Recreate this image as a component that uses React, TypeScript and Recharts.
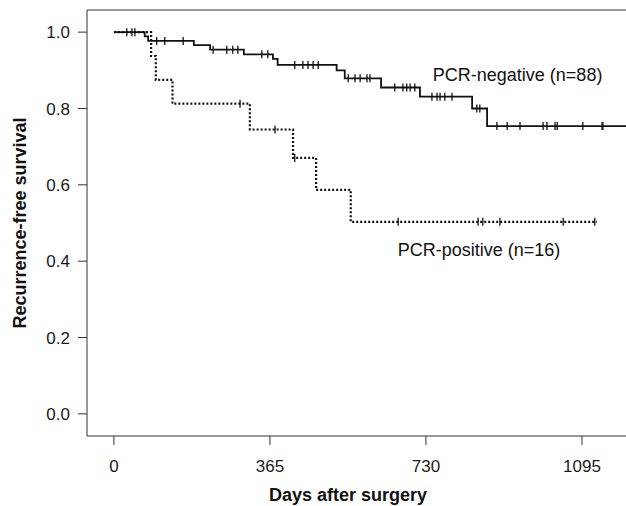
import React from "react";
import {
  ComposedChart,
  Line,
  Scatter,
  XAxis,
  YAxis,
  ReferenceDot,
  ReferenceLine,
} from "recharts";

// PCR-negative (n=88): event days and survival after each step
const negEventDays = [0, 72, 80, 187, 225, 304, 372, 383, 521, 540, 625, 716, 838, 873];
const negSurvival = [1.0, 0.989, 0.977, 0.966, 0.954, 0.942, 0.93, 0.914, 0.9, 0.879, 0.855, 0.831, 0.8, 0.754];
const negCensorDays = [
  30, 42, 49, 100, 119, 162, 232, 264, 278, 290, 346, 360, 423, 442, 454, 466, 478,
  548, 564, 576, 592, 599, 657, 676, 685, 693, 704, 744, 756, 763, 774, 791, 849, 856,
  896, 920, 950, 1004, 1013, 1032, 1037, 1097, 1142, 1144,
];
const negLastDay = 1198;

// PCR-positive (n=16)
const posEventDays = [0, 87, 98, 137, 318, 419, 473, 554];
const posSurvival = [1.0, 0.9375, 0.875, 0.8125, 0.745, 0.6705, 0.5867, 0.503];
const posCensorDays = [295, 377, 423, 665, 852, 863, 903, 1051, 1125];
const posLastDay = 1130;

const xTicks = [0, 365, 730, 1095];
const yTicks = [0, 0.2, 0.4, 0.6, 0.8, 1.0];

const xDomain: [number, number] = [-63, 1198];
const yDomain: [number, number] = [-0.058, 1.058];

const FONT = "'Liberation Sans', Arial, sans-serif";
const INK = "#111";

function stepData(days: number[], surv: number[], last: number) {
  const pts = days.map((d, i) => ({ day: d, surv: surv[i] }));
  pts.push({ day: last, surv: surv[surv.length - 1] });
  return pts;
}

function censorData(days: number[], evDays: number[], surv: number[]) {
  return days.map((d) => {
    let s = surv[0];
    evDays.forEach((e, i) => {
      if (e <= d) s = surv[i];
    });
    return { day: d, surv: s };
  });
}

const negLine = stepData(negEventDays, negSurvival, negLastDay);
const posLine = stepData(posEventDays, posSurvival, posLastDay);
const negCensors = censorData(negCensorDays, negEventDays, negSurvival);
const posCensors = censorData(posCensorDays, posEventDays, posSurvival);

const CensorMark = (props: any) => {
  const { cx, cy } = props;
  if (cx == null || cy == null) return null;
  return <line x1={cx} x2={cx} y1={cy - 4} y2={cy + 4} stroke={INK} strokeWidth={1.3} />;
};

const YTitle = (props: any) => {
  const vb = props.viewBox || {};
  const cy = (vb.y ?? 0) + (vb.height ?? 0) / 2;
  return (
    <text
      x={20}
      y={cy}
      transform={`rotate(-90, 20, ${cy})`}
      textAnchor="middle"
      dominantBaseline="central"
      fontFamily={FONT}
      fontWeight="bold"
      fontSize={18}
      fill={INK}
    >
      Recurrence-free survival
    </text>
  );
};

const XTitle = () => (
  <text
    x={348}
    y={501}
    textAnchor="middle"
    fontFamily={FONT}
    fontWeight="bold"
    fontSize={18}
    fill={INK}
  >
    Days after surgery
  </text>
);

const Note = (text: string) => (props: any) => {
  const vb = props.viewBox || {};
  return (
    <text x={vb.x} y={vb.y} textAnchor="start" fontFamily={FONT} fontSize={18} fill={INK}>
      {text}
    </text>
  );
};

export default function App() {
  const tickStyle = { fill: "#1a1a1a", fontSize: 17, fontFamily: FONT };
  return (
    <div style={{ position: "absolute", left: 0, top: 0, width: 626, height: 506, background: "#fff" }}>
      <ComposedChart width={626} height={506} margin={{ top: 10, right: 0, left: 0, bottom: 0 }}>
        <XAxis
          dataKey="day"
          type="number"
          domain={xDomain}
          ticks={xTicks}
          interval={0}
          allowDataOverflow
          height={70}
          tickSize={9}
          tickMargin={15}
          stroke="#333"
          tick={tickStyle}
          label={<XTitle />}
        />
        <YAxis
          dataKey="surv"
          type="number"
          domain={yDomain}
          ticks={yTicks}
          interval={0}
          allowDataOverflow
          width={87}
          tickSize={9}
          tickMargin={8}
          stroke="#333"
          tick={tickStyle}
          tickFormatter={(v: number) => v.toFixed(1)}
          label={<YTitle />}
        />
        {/* top frame line */}
        <ReferenceLine y={yDomain[1]} stroke="#777" strokeWidth={1.5} />
        <Line
          data={posLine}
          dataKey="surv"
          type="stepAfter"
          stroke={INK}
          strokeWidth={2.2}
          strokeDasharray="2 2"
          dot={false}
          isAnimationActive={false}
        />
        <Line
          data={negLine}
          dataKey="surv"
          type="stepAfter"
          stroke={INK}
          strokeWidth={1.8}
          dot={false}
          isAnimationActive={false}
        />
        <Scatter data={negCensors} dataKey="surv" shape={<CensorMark />} isAnimationActive={false} />
        <Scatter data={posCensors} dataKey="surv" shape={<CensorMark />} isAnimationActive={false} />
        <ReferenceDot x={746} y={0.872} r={0} stroke="none" label={Note("PCR-negative (n=88)")} />
        <ReferenceDot x={664} y={0.413} r={0} stroke="none" label={Note("PCR-positive (n=16)")} />
      </ComposedChart>
    </div>
  );
}
